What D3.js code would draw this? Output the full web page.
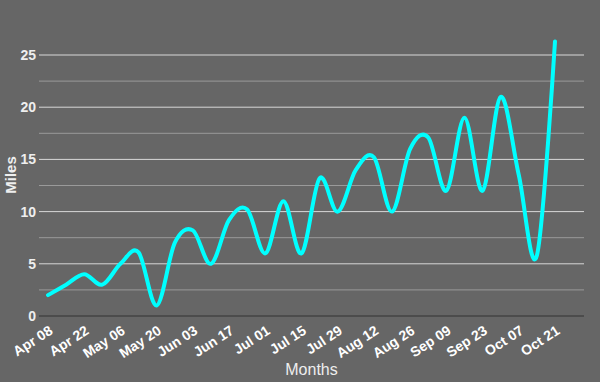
<!DOCTYPE html>
<html>
<head>
<meta charset="utf-8">
<script src="https://d3js.org/d3.v7.min.js"></script>
<style>
  html, body { margin: 0; padding: 0; background: #666666; }
  svg { display: block; }
</style>
</head>
<body>
<svg id="chart" width="600" height="382"></svg>
<script>
  // weekly dates, one per point
  const dates = [
    "2024-04-08", "2024-04-15", "2024-04-22", "2024-04-29", "2024-05-06",
    "2024-05-13", "2024-05-20", "2024-05-27", "2024-06-03", "2024-06-10",
    "2024-06-17", "2024-06-24", "2024-07-01", "2024-07-08", "2024-07-15",
    "2024-07-22", "2024-07-29", "2024-08-05", "2024-08-12", "2024-08-19",
    "2024-08-26", "2024-09-02", "2024-09-09", "2024-09-16", "2024-09-23",
    "2024-09-30", "2024-10-07", "2024-10-14", "2024-10-21",
  ];
  const miles = [
    2.0, 3.0, 4.0, 3.0, 5.0,
    6.1, 1.0, 7.0, 8.2, 5.0,
    9.2, 10.2, 6.0, 11.0, 6.0,
    13.2, 10.0, 14.0, 15.2, 10.0,
    16.0, 17.1, 12.0, 19.0, 12.0,
    21.0, 13.5, 5.8, 26.3,
  ];
  const yTicks = [0, 5, 10, 15, 20, 25];
  const yMinor = [2.5, 7.5, 12.5, 17.5, 22.5];

  const parse = d3.timeParse("%Y-%m-%d");
  const data = dates.map((d, i) => ({ date: parse(d), value: miles[i] }));
  const xTicks = data.filter((d, i) => i % 2 === 0).map((d) => d.date);

  const plotLeft = 39, plotRight = 584, plotTop = 55, plotBottom = 316;
  const font = "Liberation Sans, Arial, Helvetica, sans-serif";

  const svg = d3.select("#chart");

  const x = d3
    .scaleTime()
    .domain(d3.extent(data, (d) => d.date))
    .range([48, 555]);

  const y = d3.scaleLinear().domain([0, 25]).range([plotBottom, plotTop]);

  // minor grid
  svg
    .append("g")
    .selectAll("line")
    .data(yMinor)
    .join("line")
    .attr("x1", plotLeft)
    .attr("x2", plotRight)
    .attr("y1", (d) => y(d))
    .attr("y2", (d) => y(d))
    .attr("stroke", "#9a9a9a")
    .attr("stroke-width", 1);

  // major grid
  svg
    .append("g")
    .selectAll("line")
    .data(yTicks)
    .join("line")
    .attr("x1", plotLeft)
    .attr("x2", plotRight)
    .attr("y1", (d) => y(d))
    .attr("y2", (d) => y(d))
    .attr("stroke", (d) => (d === 0 ? "#333333" : "#d8d8d8"))
    .attr("stroke-width", 1);

  // y tick labels
  svg
    .append("g")
    .selectAll("text")
    .data(yTicks)
    .join("text")
    .attr("x", 36)
    .attr("y", (d) => y(d))
    .attr("dy", "0.36em")
    .attr("text-anchor", "end")
    .attr("font-family", font)
    .attr("font-size", 14)
    .attr("font-weight", "bold")
    .attr("fill", "#eeeeee")
    .text((d) => d);

  // x tick labels
  const fmt = d3.timeFormat("%b %d");
  svg
    .append("g")
    .selectAll("text")
    .data(xTicks)
    .join("text")
    .attr("transform", (d) => `translate(${x(d) + 3},${plotBottom + 13}) rotate(-33)`)
    .attr("text-anchor", "end")
    .attr("dy", "0.35em")
    .attr("font-family", font)
    .attr("font-size", 14)
    .attr("font-weight", "bold")
    .attr("fill", "#ffffff")
    .text((d) => fmt(d));

  // axis titles
  svg
    .append("text")
    .attr("x", (plotLeft + plotRight) / 2)
    .attr("y", 375)
    .attr("text-anchor", "middle")
    .attr("font-family", font)
    .attr("font-size", 16)
    .attr("fill", "#eeeeee")
    .text("Months");

  svg
    .append("text")
    .attr("transform", "translate(16,175) rotate(-90)")
    .attr("text-anchor", "middle")
    .attr("font-family", font)
    .attr("font-size", 15)
    .attr("font-weight", "bold")
    .attr("fill", "#eeeeee")
    .text("Miles");

  // line
  const line = d3
    .line()
    .x((d) => x(d.date))
    .y((d) => y(d.value))
    .curve(d3.curveCardinal.tension(0));

  svg
    .append("path")
    .datum(data)
    .attr("fill", "none")
    .attr("stroke", "#00ffff")
    .attr("stroke-width", 4)
    .attr("stroke-linecap", "round")
    .attr("d", line);
</script>
</body>
</html>
